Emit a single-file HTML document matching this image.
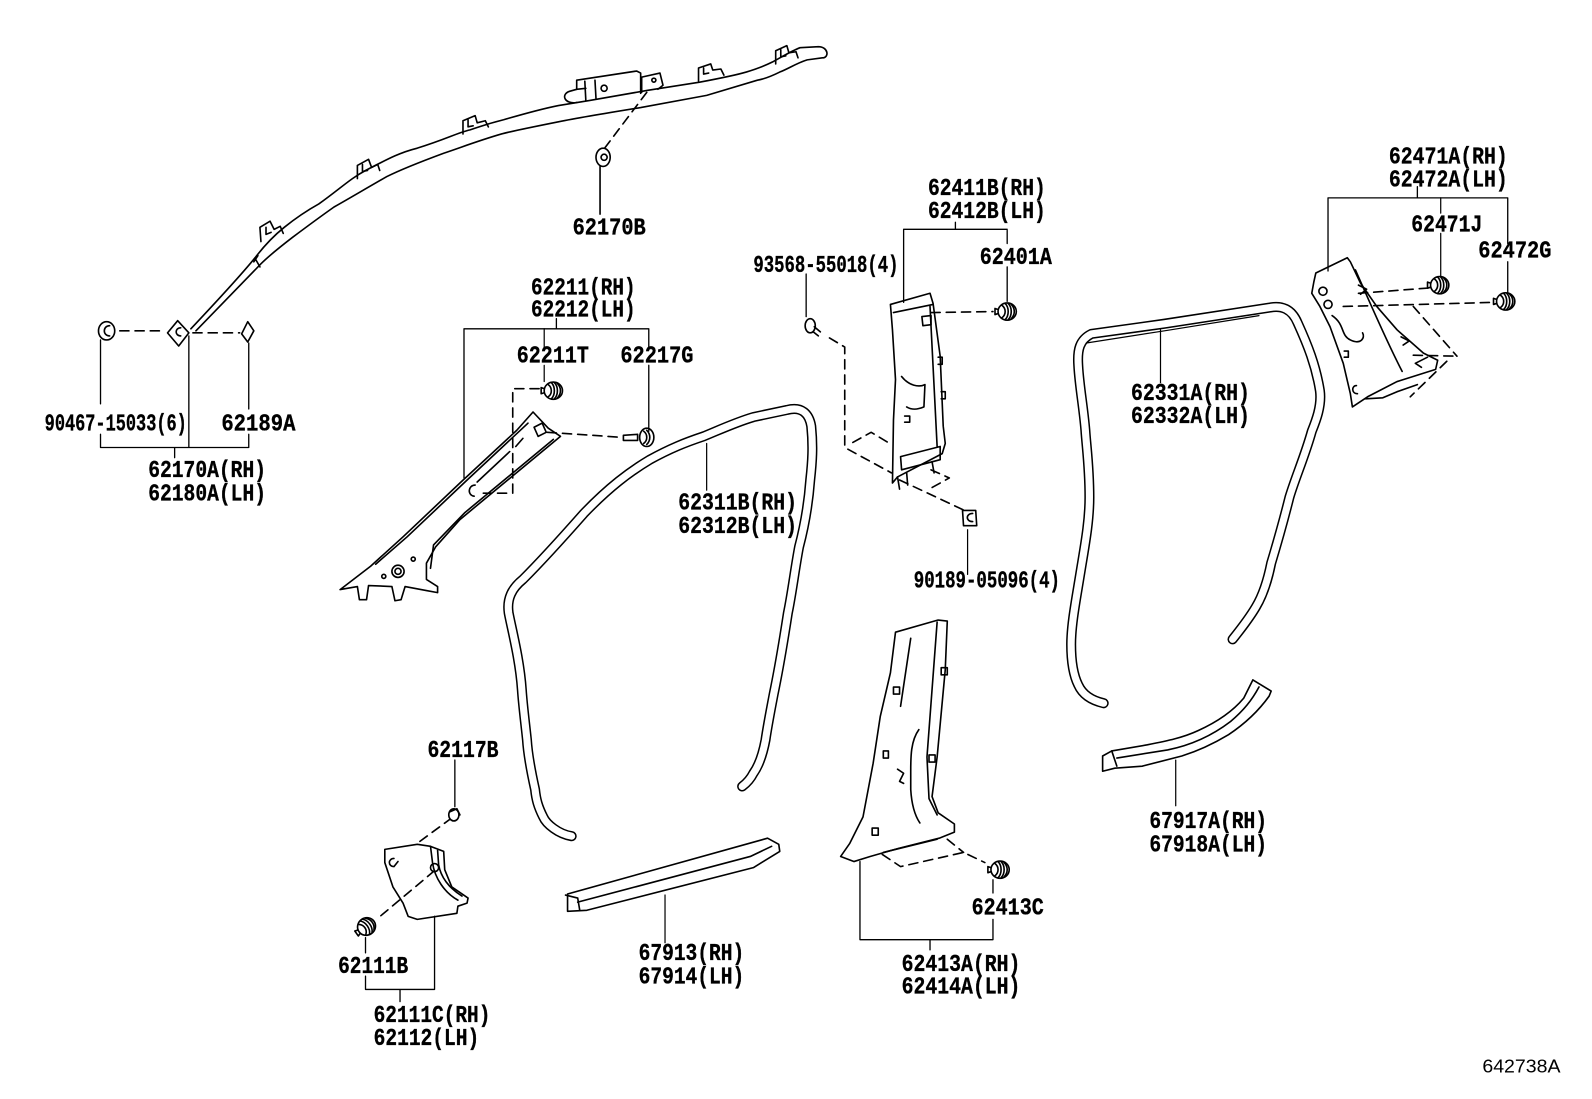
<!DOCTYPE html>
<html><head><meta charset="utf-8"><style>
html,body{margin:0;padding:0;background:#fff;}
svg{display:block;}
text{font-family:"Liberation Mono","DejaVu Sans Mono",monospace;font-weight:bold;font-size:24px;fill:#000;stroke:#000;stroke-width:0.35px;}
.s{font-family:"Liberation Sans",sans-serif;font-weight:normal;font-size:18.5px;stroke:none;}
</style></head><body>
<svg width="1592" height="1099" viewBox="0 0 1568 1083" preserveAspectRatio="none" xmlns="http://www.w3.org/2000/svg">
<defs>
<g id="clip">
<ellipse cx="0" cy="0" rx="9" ry="8.5" fill="#fff"/>
<path d="M-5,-6 C-1,-3 -1,3 -5,6 M-2,-8 C2,-4 2,4 -2,8 M1,-8 C5,-4 5,4 1,8 M4,-7 C8,-3 8,3 4,7 M-9,-2 L-12,-3 L-12,3 L-9,2"/>
</g>
</defs>
<rect width="1568" height="1083" fill="#fff"/>
<g fill="none" stroke="#000" stroke-width="1.6" stroke-linejoin="round" stroke-linecap="round">

<!-- ===== Roof side rail 62170A ===== -->
<path d="M188,324 C220,290 240,268 252,253 C262,240 270,232 280,224 C295,212 305,206 314,201 C335,186 345,176 360,168 C385,155 395,150 411,146 C440,137 450,131 463,128 C480,122 488,120 496,118 C520,111 535,107 550,104 L581,99 L638,89 L689,81 C710,77 725,74 735,71 C748,67 755,64 761,61 C772,55 780,50 788,47 L806,46 C816,46 817,57 810,57 L795,59 C785,62 776,68 768,71 C758,76 752,78 746,79 L696,94 L631,106 C600,111 570,116 550,120 C525,125 505,129 494,132 C470,139 455,145 437,151 C410,161 395,167 381,174 C360,186 345,195 329,204 C312,216 300,225 288,234 C275,244 265,252 257,260 L193,326"/>
<path d="M250,258 L254,252 M256,263 L252,256"/>
<!-- tabs -->
<path d="M257,238 L256,224 L266,218 L270,226 L276,223 L279,230 M262,224 L262,231 L267,229"/>
<path d="M352,176 L352,163 L363,157 L366,165 L372,162 L374,168 M357,162 L357,169 L362,168"/>
<path d="M456,132 L456,119 L468,114 L470,121 L478,119 L481,125 M461,118 L461,125 L466,124"/>
<path d="M688,80 L688,67 L700,63 L702,69 L710,68 L713,74 M693,67 L693,73 L698,72"/>
<path d="M764,63 L764,50 L775,45 L777,52 L784,51 L786,57 M769,49 L769,56 L774,55"/>
<!-- inflator / bracket -->
<path d="M568,101 C556,103 552,93 561,90 L568,88 L568,79 L627,70 L631,72 L631,92"/>
<path d="M576,80 L577,99 M586,79 L587,97 M568,88 L577,87"/>
<circle cx="595" cy="87" r="3"/>
<path d="M632,91 L632,76 L650,72 L653,84 L648,88"/>
<circle cx="644" cy="79" r="2"/>
<!-- 62170B clip -->
<path d="M637,91 L594,148" stroke-dasharray="9 6"/>
<ellipse cx="594" cy="155" rx="7" ry="9" fill="#fff"/>
<circle cx="595" cy="155" r="3"/>
<path d="M591,164 L591,211"/>

<!-- left clips -->
<ellipse cx="105" cy="326" rx="8" ry="9"/>
<path d="M108,321 C101,321 101,331 108,331"/>
<path d="M165,328 L175,316 L186,328 L176,341 Z"/>
<path d="M178,323 C172,323 172,331 178,331"/>
<path d="M238,329 L244,317 L250,326 L244,337 Z"/>
<path d="M118,326 L163,326 M190,328 L236,328" stroke-dasharray="9 6"/>
<path d="M99,335 L99,398 M99,428 L99,441 L245,441 L245,428 M245,338 L245,403 M186,331 L186,441 M172,441 L172,451" stroke-width="1.3"/>

<!-- ===== A-pillar 62211 ===== -->
<path d="M525,406 L509,424 L453,476 L397,529 L365,558 L335,581 L352,578 L354,591 L361,591 L363,577 L386,578 L389,592 L395,591 L399,578 L420,582 L431,584 L431,578 L420,571 L420,555 L429,539 L453,512 L552,430 L540,422 Z"/>
<path d="M520,417 L458,475 L401,529 L370,556 M545,433 L458,505 L427,537 L424,560"/>
<path d="M515,432 L508,440 M502,445 L470,475"/>
<circle cx="392" cy="563" r="6"/>
<circle cx="392" cy="563" r="3"/>
<circle cx="378" cy="568" r="2"/>
<circle cx="407" cy="551" r="2"/>
<path d="M468,478 C461,478 460,488 467,489"/>
<path d="M526,421 L534,417 L538,426 L530,430 Z"/>
<path d="M531,383 L505,383 L505,486 L476,486 M539,426 L613,431" stroke-dasharray="9 6"/>
<use href="#clip" x="545" y="385"/>
<path d="M614,429 L628,428 L628,434 L614,434 Z"/>
<ellipse cx="637" cy="431" rx="7" ry="9" fill="#fff"/>
<path d="M634,425 C638,428 638,434 634,437 M637,424 C641,428 641,434 637,438"/>
<path d="M457,471 L457,324 L639,324 L639,342 M639,360 L639,425 M548,314 L548,324" stroke-width="1.3"/>
<path d="M536,324 L536,342 M536,360 L536,376" stroke-width="1.2"/>

<!-- ===== Front door weatherstrip 62311B ===== -->
<g>
<path d="M563,824 C550,822 538,812 535,805 C530,795 528,788 527,778 C523,760 520,745 519,729 C517,710 515,695 514,680 C512,650 504,620 501,604 C499,590 504,580 515,571 C530,556 545,540 575,506 C600,480 620,465 640,453 C660,442 675,436 693,430 C710,423 725,416 742,411 L775,404 C790,400 797,408 799,420 C801,440 800,455 798,473 C796,500 792,520 787,539 C783,560 780,585 776,604 C772,630 767,660 762,684 C759,700 756,715 754,729 C751,745 747,755 742,762 C739,768 735,772 731,775" stroke-width="10"/>
<path d="M563,824 C550,822 538,812 535,805 C530,795 528,788 527,778 C523,760 520,745 519,729 C517,710 515,695 514,680 C512,650 504,620 501,604 C499,590 504,580 515,571 C530,556 545,540 575,506 C600,480 620,465 640,453 C660,442 675,436 693,430 C710,423 725,416 742,411 L775,404 C790,400 797,408 799,420 C801,440 800,455 798,473 C796,500 792,520 787,539 C783,560 780,585 776,604 C772,630 767,660 762,684 C759,700 756,715 754,729 C751,745 747,755 742,762 C739,768 735,772 731,775" stroke="#fff" stroke-width="7"/>
</g>
<path d="M696,437 L696,483" stroke-width="1.2"/>

<!-- ===== Front scuff 67913 ===== -->
<path d="M559,881 L756,826 L767,832 L768,839 L742,855 L578,897 L559,898 Z"/>
<path d="M569,889 L739,844 L760,834 M569,885 L571,897 M557,882 L569,885"/>
<path d="M655,882 L655,929" stroke-width="1.2"/>

<!-- ===== Kick panel 62111C ===== -->
<path d="M379,837 L411,832 L424,834 L437,839 L438,857 L445,874 L461,885 L460,890 L451,893 L450,900 L411,906 L402,903 L397,890 L387,874 L379,850 Z"/>
<path d="M424,834 L426,850 C428,865 438,880 451,887 M431,838 L432,852 C434,864 442,875 455,883"/>
<ellipse cx="428" cy="855" rx="4" ry="4"/>
<path d="M388,846 C382,846 382,854 388,854 L392,849"/>
<path d="M445,806 L411,831 M428,858 L372,905" stroke-dasharray="9 6"/>
<ellipse cx="447" cy="803" rx="5" ry="6" fill="#fff"/>
<path d="M443,800 L450,797 L453,803"/>
<use href="#clip" x="361" y="913" transform="rotate(-35 361 913)"/>
<path d="M448,749 L448,795 M360,924 L360,939 M360,962 L360,975 L428,975 L428,903 M394,975 L394,987" stroke-width="1.3"/>

<!-- ===== B-pillar upper 62411B ===== -->
<path d="M877,300 L916,289 L919,299 L926,351 L929,420 L931,437 L928,447 L884,470 L879,476 L880,414 L882,374 L879,325 Z"/>
<path d="M880,308 L919,300 M916,302 L923,440 M887,450 L926,440 L926,453 L888,463 Z"/>
<path d="M908,312 L917,311 L917,320 L909,321 Z"/>
<path d="M888,371 C895,380 905,382 911,379 L910,401 C903,404 898,404 893,401"/>
<path d="M924,352 L928,352 L928,359 L924,359 M927,386 L931,386 L931,393 L927,393 M891,410 L896,410 L896,416 L891,416"/>
<path d="M884,470 L886,482 M893,466 L894,478 M918,455 L920,466"/>
<use href="#clip" x="992" y="307"/>
<path d="M917,308 L978,307" stroke-dasharray="9 6"/>
<path d="M992,227 L992,240 M992,263 L992,297 M890,298 L890,226 L992,226 M941,219 L941,226" stroke-width="1.3"/>
<ellipse cx="798" cy="321" rx="5" ry="7" fill="#fff"/>
<path d="M802,322 L808,327 M801,327 L806,331"/>
<path d="M794,270 L794,312" stroke-width="1.3"/>
<path d="M817,333 L832,342 L832,441 L878,466 M840,436 L858,426 L878,438 M917,463 L935,471 L917,481 M886,473 L950,503" stroke-dasharray="9 6"/>
<path d="M948,503 L961,503 L962,518 L949,518 Z"/>
<path d="M958,506 C951,506 951,514 958,514"/>
<path d="M953,522 L953,566" stroke-width="1.2"/>

<!-- ===== B-pillar lower 62413A ===== -->
<path d="M882,623 L924,611 L933,612 L931,660 L923,746 L918,785 L924,801 L940,812 L940,820 L925,826 L885,836 L857,844 L841,849 L828,844 L837,831 L850,805 L860,752 L867,706 L877,663 Z"/>
<path d="M897,629 L887,696 M923,613 L913,746 L915,787 L923,803 M905,719 C897,730 897,746 897,760 L897,778 C898,795 902,805 906,811 M870,840 L923,827"/>
<path d="M880,677 L886,677 L886,684 L880,684 Z M870,740 L875,740 L875,747 L870,747 Z M859,816 L865,816 L865,823 L859,823 Z M927,658 L933,658 L933,665 L927,665 Z M915,744 L921,744 L921,751 L915,751 Z"/>
<path d="M884,758 L890,762 L886,770 L890,772"/>
<path d="M869,842 L887,854 L949,840 L970,850 M933,827 L949,840" stroke-dasharray="9 6"/>
<use href="#clip" x="985" y="857"/>
<path d="M978,867 L978,880 M978,906 L978,926 L847,926 L847,849 M916,926 L916,936" stroke-width="1.3"/>

<!-- ===== Rear door weatherstrip 62331A ===== -->
<path d="M1087,693 C1074,690 1066,684 1062,675 C1057,665 1055,650 1055,635 C1055,615 1060,590 1064,565 C1068,540 1073,515 1073,490 C1073,460 1070,440 1069,424 C1067,400 1063,380 1062,360 C1061,345 1063,335 1075,329 L1147,319 L1251,303 C1262,301 1272,304 1278,318 C1288,340 1296,360 1300,385 C1302,400 1296,415 1292,425 C1285,450 1276,470 1270,490 C1265,510 1258,535 1252,555 C1248,575 1243,588 1237,598 C1230,610 1222,620 1214,630" stroke-width="10"/>
<path d="M1087,693 C1074,690 1066,684 1062,675 C1057,665 1055,650 1055,635 C1055,615 1060,590 1064,565 C1068,540 1073,515 1073,490 C1073,460 1070,440 1069,424 C1067,400 1063,380 1062,360 C1061,345 1063,335 1075,329 L1147,319 L1251,303 C1262,301 1272,304 1278,318 C1288,340 1296,360 1300,385 C1302,400 1296,415 1292,425 C1285,450 1276,470 1270,490 C1265,510 1258,535 1252,555 C1248,575 1243,588 1237,598 C1230,610 1222,620 1214,630" stroke="#fff" stroke-width="7"/>
<path d="M1070,338 L1147,326 L1240,311" stroke-width="1.2"/>
<path d="M1143,325 L1143,377" stroke-width="1.2"/>

<!-- ===== Rear scuff 67917A ===== -->
<path d="M1086,745 L1095,740 L1130,734 C1150,730 1165,727 1180,720 C1200,711 1215,700 1225,688 L1234,670 L1252,681 L1250,686 C1240,700 1228,712 1210,724 C1195,733 1180,740 1164,745 L1125,755 L1098,757 L1086,760 Z"/>
<path d="M1095,740 L1100,755 M1100,747 L1150,739 C1175,734 1195,724 1212,711 C1225,700 1233,690 1240,677"/>
<path d="M1158,749 L1158,794" stroke-width="1.2"/>

<!-- ===== Quarter trim 62471A ===== -->
<path d="M1296,269 L1327,254 L1330,258 L1340,279 L1356,302 L1376,325 L1402,348 L1416,355 L1414,364 L1376,376 L1347,391 L1332,401 L1330,388 L1323,358 L1310,322 L1300,302 L1292,289 L1294,278 Z"/>
<path d="M1335,266 C1350,300 1365,335 1381,366"/>
<circle cx="1303" cy="287" r="4"/>
<circle cx="1308" cy="300" r="4"/>
<path d="M1312,311 C1325,320 1320,330 1330,335 C1340,340 1345,333 1342,328"/>
<path d="M1338,281 L1346,285 L1340,290 M1380,332 L1388,336 L1382,340 M1406,352 L1394,358 L1400,362"/>
<path d="M1324,346 L1328,346 L1328,352 L1324,352 M1336,380 C1331,380 1331,388 1337,388"/>
<path d="M1345,393 L1362,392 L1376,386 L1396,379"/>
<path d="M1338,289 L1405,284 M1323,302 L1470,298 M1392,302 L1435,351 M1392,350 L1435,351 M1425,356 L1389,391" stroke-dasharray="9 6"/>
<use href="#clip" x="1418" y="281"/>
<use href="#clip" x="1483" y="297"/>
<path d="M1308,267 L1308,195 L1485,195 L1485,240 M1485,258 L1485,290 M1396,184 L1396,195" stroke-width="1.3"/>
<path d="M1419,195 L1419,210 M1419,230 L1419,272" stroke-width="1.2"/>
</g>

<!-- ===== Labels ===== -->
<g>
<text x="564" y="231" textLength="72" lengthAdjust="spacingAndGlyphs">62170B</text>
<text x="523" y="290" textLength="103" lengthAdjust="spacingAndGlyphs">62211(RH)</text>
<text x="523" y="312" textLength="103" lengthAdjust="spacingAndGlyphs">62212(LH)</text>
<text x="509" y="357" textLength="71" lengthAdjust="spacingAndGlyphs">62211T</text>
<text x="611" y="357" textLength="72" lengthAdjust="spacingAndGlyphs">62217G</text>
<text x="44" y="424" textLength="140" lengthAdjust="spacingAndGlyphs">90467-15033(6)</text>
<text x="218" y="424" textLength="73" lengthAdjust="spacingAndGlyphs">62189A</text>
<text x="146" y="470" textLength="116" lengthAdjust="spacingAndGlyphs">62170A(RH)</text>
<text x="146" y="493" textLength="116" lengthAdjust="spacingAndGlyphs">62180A(LH)</text>
<text x="742" y="268" textLength="143" lengthAdjust="spacingAndGlyphs">93568-55018(4)</text>
<text x="914" y="192" textLength="116" lengthAdjust="spacingAndGlyphs">62411B(RH)</text>
<text x="914" y="215" textLength="116" lengthAdjust="spacingAndGlyphs">62412B(LH)</text>
<text x="965" y="260" textLength="71" lengthAdjust="spacingAndGlyphs">62401A</text>
<text x="1368" y="161" textLength="117" lengthAdjust="spacingAndGlyphs">62471A(RH)</text>
<text x="1368" y="184" textLength="117" lengthAdjust="spacingAndGlyphs">62472A(LH)</text>
<text x="1390" y="228" textLength="70" lengthAdjust="spacingAndGlyphs">62471J</text>
<text x="1456" y="254" textLength="72" lengthAdjust="spacingAndGlyphs">62472G</text>
<text x="1114" y="394" textLength="117" lengthAdjust="spacingAndGlyphs">62331A(RH)</text>
<text x="1114" y="417" textLength="117" lengthAdjust="spacingAndGlyphs">62332A(LH)</text>
<text x="668" y="502" textLength="117" lengthAdjust="spacingAndGlyphs">62311B(RH)</text>
<text x="668" y="525" textLength="117" lengthAdjust="spacingAndGlyphs">62312B(LH)</text>
<text x="900" y="579" textLength="144" lengthAdjust="spacingAndGlyphs">90189-05096(4)</text>
<text x="421" y="746" textLength="70" lengthAdjust="spacingAndGlyphs">62117B</text>
<text x="333" y="959" textLength="69" lengthAdjust="spacingAndGlyphs">62111B</text>
<text x="368" y="1007" textLength="115" lengthAdjust="spacingAndGlyphs">62111C(RH)</text>
<text x="368" y="1030" textLength="104" lengthAdjust="spacingAndGlyphs">62112(LH)</text>
<text x="629" y="946" textLength="104" lengthAdjust="spacingAndGlyphs">67913(RH)</text>
<text x="629" y="969" textLength="104" lengthAdjust="spacingAndGlyphs">67914(LH)</text>
<text x="957" y="901" textLength="71" lengthAdjust="spacingAndGlyphs">62413C</text>
<text x="888" y="957" textLength="117" lengthAdjust="spacingAndGlyphs">62413A(RH)</text>
<text x="888" y="979" textLength="117" lengthAdjust="spacingAndGlyphs">62414A(LH)</text>
<text x="1132" y="816" textLength="116" lengthAdjust="spacingAndGlyphs">67917A(RH)</text>
<text x="1132" y="839" textLength="116" lengthAdjust="spacingAndGlyphs">67918A(LH)</text>
<text class="s" x="1460" y="1057" textLength="77" lengthAdjust="spacingAndGlyphs">642738A</text>
</g>
</svg>
</body></html>
